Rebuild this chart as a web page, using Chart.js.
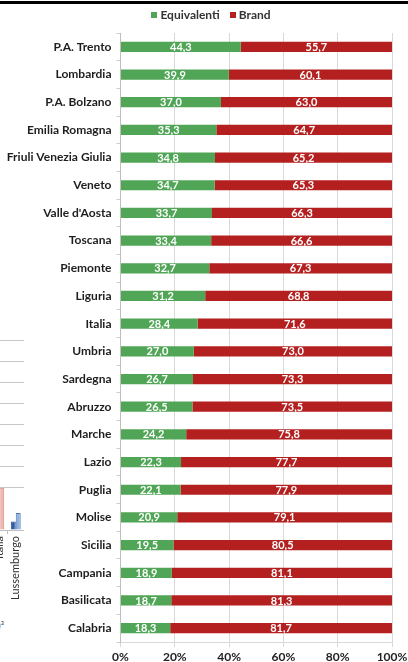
<!DOCTYPE html>
<html lang="it">
<head>
<meta charset="utf-8">
<title>Equivalenti e Brand per regione</title>
<script src="https://cdn.jsdelivr.net/npm/chart.js@4.4.1/dist/chart.umd.min.js"></script>
<style>
  html, body { margin: 0; padding: 0; background: #fff; overflow: hidden; }
  #page { position: relative; width: 408px; height: 662px; overflow: hidden; }
  #rule { position: absolute; left: 0; top: 1px; width: 408px; height: 3px; background: #000; }
  #main { position: absolute; left: 0; top: 0; }
  #side { position: absolute; left: -9px; top: 330px; }
  #note { position: absolute; left: -2px; top: 619px; font: 10px Lato, sans-serif; color: #444; }
</style>
</head>
<body>
<div id="page">
  <canvas id="side" width="33" height="280"></canvas>
  <span id="note">)³</span>
  <canvas id="main" width="408" height="662"></canvas>
  <div id="rule"></div>
</div>
<script>
// Quota di mercato (%) per regione: farmaci equivalenti vs brand
const regioni = [
  'P.A. Trento', 'Lombardia', 'P.A. Bolzano', 'Emilia Romagna', 'Friuli Venezia Giulia',
  'Veneto', "Valle d'Aosta", 'Toscana', 'Piemonte', 'Liguria', 'Italia', 'Umbria',
  'Sardegna', 'Abruzzo', 'Marche', 'Lazio', 'Puglia', 'Molise', 'Sicilia', 'Campania',
  'Basilicata', 'Calabria'
];
const equivalenti = [44.3, 39.9, 37.0, 35.3, 34.8, 34.7, 33.7, 33.4, 32.7, 31.2, 28.4, 27.0,
  26.7, 26.5, 24.2, 22.3, 22.1, 20.9, 19.5, 18.9, 18.7, 18.3];
const brand = [55.7, 60.1, 63.0, 64.7, 65.2, 65.3, 66.3, 66.6, 67.3, 68.8, 71.6, 73.0,
  73.3, 73.5, 75.8, 77.7, 77.9, 79.1, 80.5, 81.1, 81.3, 81.7];
const serieNomi = ['Equivalenti', 'Brand'];

// Grafico affiancato (solo il margine destro resta in vista)
const paesi = ['Italia', 'Lussemburgo'];
const paesiSerieA = [2.0, 0.4];
const paesiSerieB = [2.0, 0.8];

const VERDE = '#50a656';
const ROSSO = '#b3201f';
const FONT = 'Lato, "Open Sans", sans-serif';

// Etichette dei valori al centro di ogni segmento, con virgola decimale
const etichetteValori = {
  id: 'etichetteValori',
  afterDatasetsDraw(chart) {
    const ctx = chart.ctx;
    ctx.save();
    ctx.font = 'bold 11px ' + FONT;
    ctx.fillStyle = '#ffffff';
    ctx.textAlign = 'center';
    ctx.textBaseline = 'middle';
    chart.data.datasets.forEach((ds, di) => {
      const meta = chart.getDatasetMeta(di);
      meta.data.forEach((el, i) => {
        const p = el.getProps(['x', 'y', 'base'], true);
        const cx = (p.x + p.base) / 2;
        ctx.fillText(ds.data[i].toFixed(1).replace('.', ','), cx, p.y + 0.5);
      });
    });
    ctx.restore();
  }
};

// Legenda in alto: quadratino colorato + nome della serie, blocco centrato su centroX
const legendaSerie = {
  id: 'legendaSerie',
  afterDraw(chart, _args, opts) {
    const ctx = chart.ctx;
    const box = 6, gap = 3, spazio = 10;
    ctx.save();
    ctx.font = 'bold 12px ' + FONT;
    ctx.textBaseline = 'middle';
    ctx.textAlign = 'left';
    const items = chart.data.datasets.map(ds => ({
      testo: ds.label,
      colore: ds.backgroundColor,
      w: ctx.measureText(ds.label).width
    }));
    const totale = items.reduce((s, it) => s + box + gap + it.w, 0) + spazio * (items.length - 1);
    let x = opts.centroX - totale / 2;
    items.forEach(it => {
      ctx.fillStyle = it.colore;
      ctx.fillRect(Math.round(x), opts.y - box / 2, box, box);
      ctx.fillStyle = '#333';
      ctx.fillText(it.testo, x + box + gap, opts.y + 0.5);
      x += box + gap + it.w + spazio;
    });
    ctx.restore();
  }
};

new Chart(document.getElementById('main'), {
  type: 'bar',
  data: {
    labels: regioni,
    datasets: [
      { label: serieNomi[0], data: equivalenti, backgroundColor: VERDE },
      { label: serieNomi[1], data: brand, backgroundColor: ROSSO }
    ]
  },
  options: {
    indexAxis: 'y',
    responsive: false,
    animation: false,
    devicePixelRatio: 1,
    barPercentage: 0.37,
    categoryPercentage: 1,
    layout: { padding: { top: 33, right: 16, bottom: 0, left: 0 } },
    plugins: {
      tooltip: { enabled: false },
      legend: { display: false },
      legendaSerie: { centroX: 211, y: 15 }
    },
    scales: {
      x: {
        stacked: true,
        min: 0,
        max: 100,
        ticks: {
          stepSize: 20,
          padding: 3,
          color: '#222',
          font: { family: FONT, size: 12, weight: 'bold' },
          callback: v => v + '%'
        },
        grid: { color: '#d9d9d9', tickLength: 5, lineWidth: 1 },
        border: { color: '#d9d9d9' },
        afterFit(s) { s.height = 20; s.paddingRight = 0; s.paddingLeft = 0; }
      },
      y: {
        stacked: true,
        ticks: {
          padding: 5,
          color: '#1e1e1e',
          font: { family: FONT, size: 12, weight: 'bold' },
          autoSkip: false
        },
        grid: { drawOnChartArea: false, color: '#cfcfcf', tickLength: 4 },
        border: { color: '#bfbfbf' },
        afterFit(s) { s.width = 120.5; s.paddingTop = 0; s.paddingBottom = 0; }
      }
    }
  },
  plugins: [etichetteValori, legendaSerie]
});

new Chart(document.getElementById('side'), {
  type: 'bar',
  data: {
    labels: paesi,
    datasets: [
      { data: paesiSerieA, backgroundColor: ['#e9a8a2', '#2f5ea6'], borderColor: ['#d98b84', '#27508f'], borderWidth: 1 },
      { data: paesiSerieB, backgroundColor: ['#eeb8b2', '#93b3de'], borderColor: ['#d98b84', '#4d77b8'], borderWidth: 1 }
    ]
  },
  options: {
    responsive: false,
    animation: false,
    devicePixelRatio: 1,
    categoryPercentage: 0.6,
    barPercentage: 1,
    layout: { padding: { top: 10, right: 0, bottom: 0, left: 0 } },
    plugins: { legend: { display: false }, tooltip: { enabled: false } },
    scales: {
      x: {
        ticks: {
          autoSkip: false,
          minRotation: 90,
          maxRotation: 90,
          padding: 2,
          color: '#333',
          font: { family: FONT, size: 11 }
        },
        grid: { drawOnChartArea: false, color: '#bfbfbf', tickLength: 4 },
        border: { color: '#bfbfbf' },
        afterFit(s) { s.height = 80; s.paddingLeft = 0; s.paddingRight = 0; }
      },
      y: {
        min: 0,
        max: 9,
        ticks: { display: false, stepSize: 1 },
        grid: {
          drawTicks: false,
          color: c => (c.tick && c.tick.value === 1) ? 'rgba(0,0,0,0)' : '#c8c8c8'
        },
        border: { display: false },
        afterFit(s) { s.width = 0; s.paddingTop = 0; s.paddingBottom = 0; }
      }
    }
  }
});
</script>
</body>
</html>
